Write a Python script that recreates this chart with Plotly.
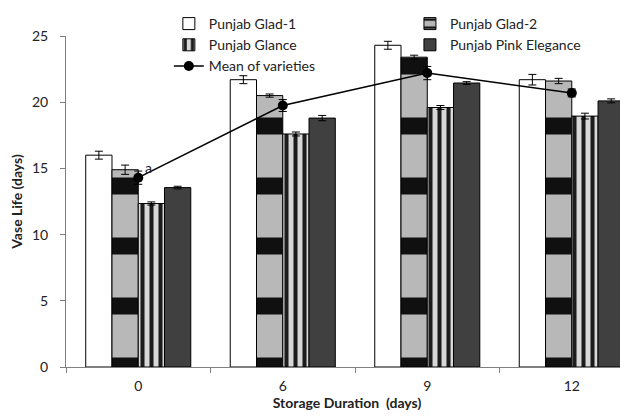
import plotly.graph_objects as go

# ---- data ----
storage_days = ["0", "6", "9", "12"]
glad1 = [16.0, 21.7, 24.3, 21.7]
glad1_err = [0.3, 0.3, 0.3, 0.4]
glad2 = [14.9, 20.5, 23.4, 21.6]
glad2_err = [0.35, 0.12, 0.15, 0.2]
glance = [12.35, 17.6, 19.6, 18.95]
glance_err = [0.12, 0.15, 0.15, 0.22]
pink = [13.55, 18.8, 21.45, 20.1]
pink_err = [0.1, 0.2, 0.1, 0.15]
mean_vals = [14.3, 19.75, 22.2, 20.7]
mean_err = [0.5, 0.45, 0.5, 0.3]
mean_letters = ["a", "b", "c", "d"]

FONT = "Lato"
err_style = dict(type="data", visible=True, color="black", thickness=1, width=4)
line_style = dict(color="black", width=1)

fig = go.Figure()
fig.add_trace(go.Bar(
    name="Punjab Glad-1", x=storage_days, y=glad1, legend="legend",
    error_y=dict(array=glad1_err, **err_style),
    marker=dict(color="white", line=line_style),
))
fig.add_trace(go.Bar(
    name="Punjab Glad-2", x=storage_days, y=glad2, legend="legend2",
    error_y=dict(array=glad2_err, **err_style),
    marker=dict(color="#b4b4b4", line=line_style,
                pattern=dict(shape="-", fgcolor="#101010", bgcolor="#b8b8b8",
                             fgopacity=1, size=60, solidity=0.28)),
))
fig.add_trace(go.Bar(
    name="Punjab Glance", x=storage_days, y=glance, legend="legend",
    error_y=dict(array=glance_err, **err_style),
    marker=dict(color="#d8d8d8", line=line_style,
                pattern=dict(shape="|", fgcolor="#1c1c1c", bgcolor="#d8d8d8",
                             fgopacity=1, size=9, solidity=0.45)),
))
fig.add_trace(go.Bar(
    name="Punjab Pink Elegance", x=storage_days, y=pink, legend="legend2",
    error_y=dict(array=pink_err, **err_style),
    marker=dict(color="#404040", line=line_style),
))
fig.add_trace(go.Scatter(
    name="Mean of varieties", x=storage_days, y=mean_vals, legend="legend",
    mode="lines+markers",
    line=dict(color="black", width=1.5),
    marker=dict(color="black", size=10, symbol="circle"),
    error_y=dict(array=mean_err, **err_style),
))

for d, v, t in zip(storage_days, mean_vals, mean_letters):
    fig.add_annotation(x=d, y=v, text=t, showarrow=False,
                       xshift=10, yshift=10,
                       font=dict(family=FONT, size=14, color="#222"))

legend_common = dict(orientation="v", xanchor="left", yanchor="top",
                     bgcolor="rgba(0,0,0,0)", tracegroupgap=0,
                     font=dict(family=FONT, size=14, color="#222"))

# The page body adds an 8px offset, so the figure is 8px smaller than the window.
fig.update_layout(
    width=620, height=409,
    margin=dict(l=58, r=0, t=28, b=50),
    paper_bgcolor="white", plot_bgcolor="white",
    barmode="group", bargap=0.273, bargroupgap=0,
    font=dict(family=FONT, size=14, color="#222"),
    showlegend=True,
    legend=dict(x=0.183, y=1.085, **legend_common),
    legend2=dict(x=0.612, y=1.085, **legend_common),
)
fig.update_xaxes(
    type="category", range=[-0.5, 3.389], automargin=False,
    tickson="boundaries", ticks="outside", ticklen=5, tickcolor="#808080",
    showline=True, linecolor="#808080", linewidth=1,
    showgrid=False, zeroline=False, ticklabelstandoff=6,
    title=dict(text="<b>Storage Duration  (days)</b>", standoff=0,
               font=dict(family=FONT, size=14, color="#222")),
)
fig.update_yaxes(
    range=[0, 25], tickvals=[0, 5, 10, 15, 20, 25], automargin=False,
    ticks="outside", ticklen=5, tickcolor="#808080",
    showline=True, linecolor="#808080", linewidth=1,
    showgrid=False, zeroline=False, ticklabelstandoff=9,
    title=dict(text="<b>Vase Life (days)</b>", standoff=6,
               font=dict(family=FONT, size=14, color="#222")),
)

fig.write_html("out.html")
